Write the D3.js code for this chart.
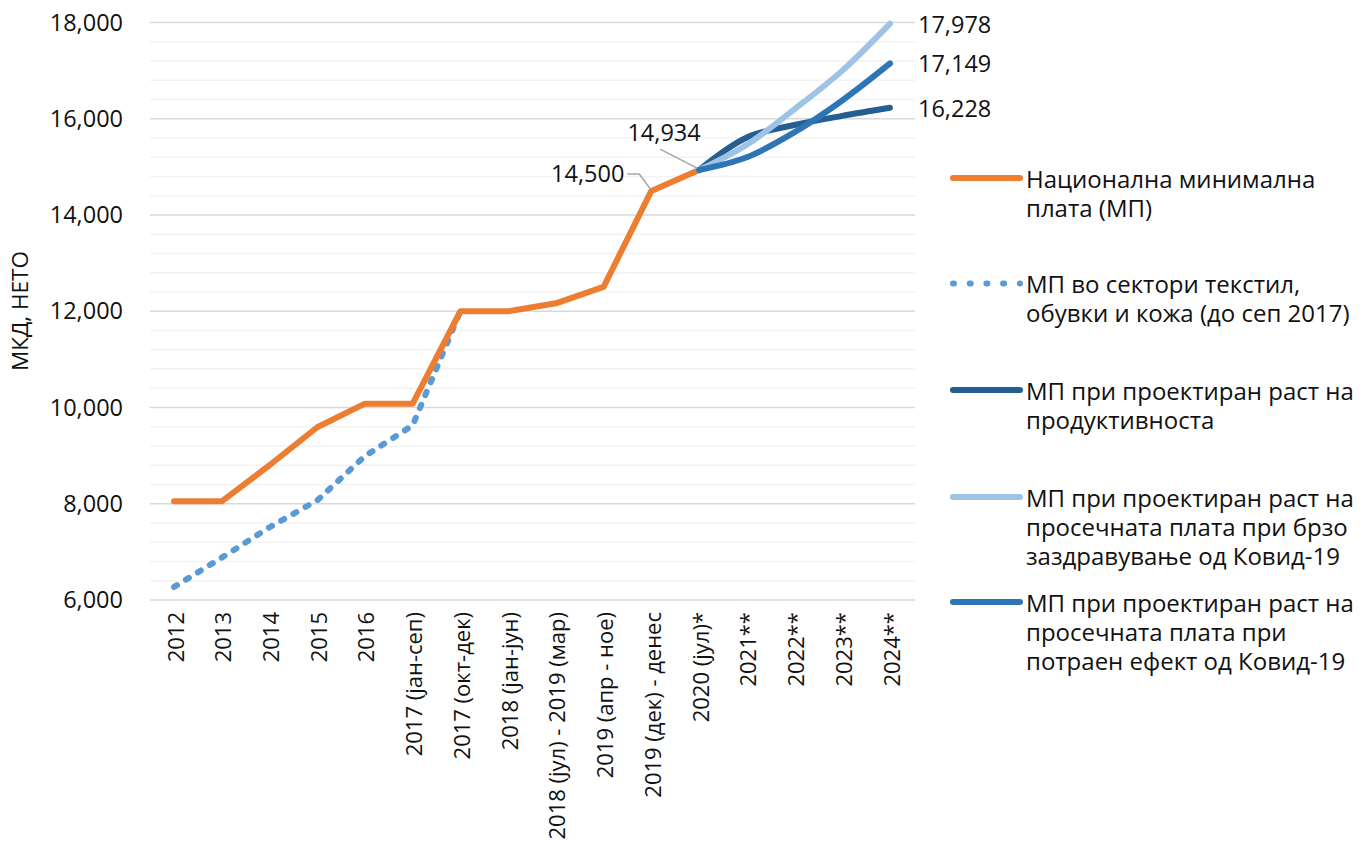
<!DOCTYPE html>
<html>
<head>
<meta charset="utf-8">
<script src="https://cdn.jsdelivr.net/npm/d3@7"></script>
<style>
  body { margin: 0; background: #fff; }
  text { font-family: "Open Sans", sans-serif; fill: #111; }
</style>
</head>
<body>
<svg id="chart" width="1370" height="858"></svg>
<script>
const categories = ["2012", "2013", "2014", "2015", "2016", "2017 (јан-сеп)", "2017 (окт-дек)",
  "2018 (јан-јун)", "2018 (јул) - 2019 (мар)", "2019 (апр - ное)", "2019 (дек) - денес",
  "2020 (јул)*", "2021**", "2022**", "2023**", "2024**"];
const nationalMW = [8050, 8050, 8800, 9590, 10080, 10080, 12000, 12000, 12165, 12507, 14500, 14934, null, null, null, null];
const textileMW = [6270, 6880, 7510, 8070, 8990, 9630, 12000, null, null, null, null, null, null, null, null, null];
const productivityMW = [null, null, null, null, null, null, null, null, null, null, null, 14934, 15610, 15870, 16060, 16228];
const fastRecoveryMW = [null, null, null, null, null, null, null, null, null, null, null, 14934, 15460, 16200, 17000, 17978];
const prolongedMW = [null, null, null, null, null, null, null, null, null, null, null, 14934, 15200, 15720, 16380, 17149];
const yTicks = [6000, 8000, 10000, 12000, 14000, 16000, 18000];
const seriesNames = [
  ["Национална минимална", "плата (МП)"],
  ["МП во сектори текстил,", "обувки и кожа (до сеп 2017)"],
  ["МП при проектиран раст на", "продуктивноста"],
  ["МП при проектиран раст на", "просечната плата при брзо", "заздравување од Ковид-19"],
  ["МП при проектиран раст на", "просечната плата при", "потраен ефект од Ковид-19"]
];
const colors = ["#ED7D31", "#5B9BD5", "#255E91", "#9DC3E6", "#2E75B6"];
const yAxisTitle = "МКД, НЕТО";
</script>
<script>
const svg = d3.select("#chart");
const fmt = d3.format(",");
const x = d3.scalePoint().domain(categories).range([174, 890]);
const y = d3.scaleLinear().domain([6000, 18000]).range([600, 22.5]);
const plotL = 150, plotR = 915;

// gridlines (minor every 400, major every 2000)
const minor = d3.range(6000, 18001, 400).filter(v => v % 2000 !== 0);
svg.append("g").selectAll("line").data(minor).join("line")
  .attr("x1", plotL).attr("x2", plotR)
  .attr("y1", d => y(d)).attr("y2", d => y(d))
  .attr("stroke", "#f2f2f2").attr("stroke-width", 1.5);
svg.append("g").selectAll("line").data(yTicks).join("line")
  .attr("x1", plotL).attr("x2", plotR)
  .attr("y1", d => y(d)).attr("y2", d => y(d))
  .attr("stroke", "#d9d9d9").attr("stroke-width", 1.5);

// y axis labels
const yAxis = d3.axisLeft(y).tickValues(yTicks).tickFormat(fmt).tickSize(0).tickPadding(0);
const yg = svg.append("g").attr("transform", "translate(123,0)").call(yAxis);
yg.select(".domain").remove();
yg.selectAll("text").style("font-size", "23.5px").style("font-family", "Open Sans").attr("fill", "#111");

// y title
svg.append("text").attr("transform", "translate(28,311) rotate(-90)")
  .attr("text-anchor", "middle").style("font-size", "22.5px").text(yAxisTitle);

// x axis labels
const xAxis = d3.axisBottom(x).tickSize(0).tickPadding(0);
const xg = svg.append("g").attr("transform", "translate(0,612)").call(xAxis);
xg.select(".domain").remove();
xg.selectAll("text")
  .style("font-size", "22px").style("font-family", "Open Sans").attr("fill", "#111")
  .attr("text-anchor", "end").attr("dy", null).attr("y", 0)
  .attr("transform", "rotate(-90)").attr("x", 0).attr("dx", 0)
  .attr("dominant-baseline", "central");

// lines
const lineStraight = d3.line().defined(d => d.v != null).x(d => x(d.c)).y(d => y(d.v));
const lineSmooth = d3.line().defined(d => d.v != null).x(d => x(d.c)).y(d => y(d.v)).curve(d3.curveCatmullRom.alpha(0.5));
const toPts = arr => arr.map((v, i) => ({c: categories[i], v}));

const g = svg.append("g").attr("fill", "none").attr("stroke-linecap", "round").attr("stroke-linejoin", "round");
g.append("path").attr("d", lineStraight(toPts(textileMW)))
  .attr("stroke", colors[1]).attr("stroke-width", 6).attr("stroke-dasharray", "3.5,10.5");
g.append("path").attr("d", lineStraight(toPts(nationalMW)))
  .attr("stroke", colors[0]).attr("stroke-width", 6);
g.append("path").attr("d", lineSmooth(toPts(productivityMW)))
  .attr("stroke", colors[2]).attr("stroke-width", 6);
g.append("path").attr("d", lineSmooth(toPts(fastRecoveryMW)))
  .attr("stroke", colors[3]).attr("stroke-width", 6);
g.append("path").attr("d", lineSmooth(toPts(prolongedMW)))
  .attr("stroke", colors[4]).attr("stroke-width", 6);

// end labels
const last = categories.length - 1;
[fastRecoveryMW, prolongedMW, productivityMW].forEach(arr => {
  svg.append("text").attr("x", x(categories[last]) + 28).attr("y", y(arr[last]))
    .attr("dominant-baseline", "central").style("font-size", "23.5px").text(fmt(arr[last]));
});

// callout labels
const i2019 = categories.indexOf("2019 (дек) - денес");
const i2020 = categories.indexOf("2020 (јул)*");
const p19 = [x(categories[i2019]), y(nationalMW[i2019])];
const p20 = [x(categories[i2020]), y(nationalMW[i2020])];
svg.append("polyline")
  .attr("points", [[p19[0] - 24, p19[1] - 17], [p19[0] - 12, p19[1] - 17], [p19[0] - 1, p19[1] - 2]].join(" "))
  .attr("fill", "none").attr("stroke", "#a6a6a6").attr("stroke-width", 1.5);
svg.append("text").attr("x", p19[0] - 27).attr("y", p19[1] - 18).attr("text-anchor", "end")
  .attr("dominant-baseline", "central").style("font-size", "23.5px").text(fmt(nationalMW[i2019]));
svg.append("line").attr("x1", p20[0] - 39).attr("y1", p20[1] - 21).attr("x2", p20[0] - 2).attr("y2", p20[1] - 2)
  .attr("stroke", "#a6a6a6").attr("stroke-width", 1.5);
svg.append("text").attr("x", p20[0] - 35).attr("y", p20[1] - 38).attr("text-anchor", "middle")
  .attr("dominant-baseline", "central").style("font-size", "23.5px").text(fmt(nationalMW[i2020]));

// legend
const legendY = [178, 283.5, 390, 497, 602];
const lg = svg.append("g");
seriesNames.forEach((lines, i) => {
  const gy = legendY[i];
  const ln = lg.append("line").attr("x1", 953).attr("x2", 1020).attr("y1", gy).attr("y2", gy)
    .attr("stroke", colors[i]).attr("stroke-width", 6).attr("stroke-linecap", "round");
  if (i === 1) ln.attr("stroke-dasharray", "1,15.7");
  const t = lg.append("text").attr("x", 1026).attr("y", gy).style("font-size", "24px");
  lines.forEach((s, j) => {
    t.append("tspan").attr("x", 1026).attr("y", gy + j * 29).attr("dominant-baseline", "central").text(s);
  });
});
</script>
</body>
</html>
